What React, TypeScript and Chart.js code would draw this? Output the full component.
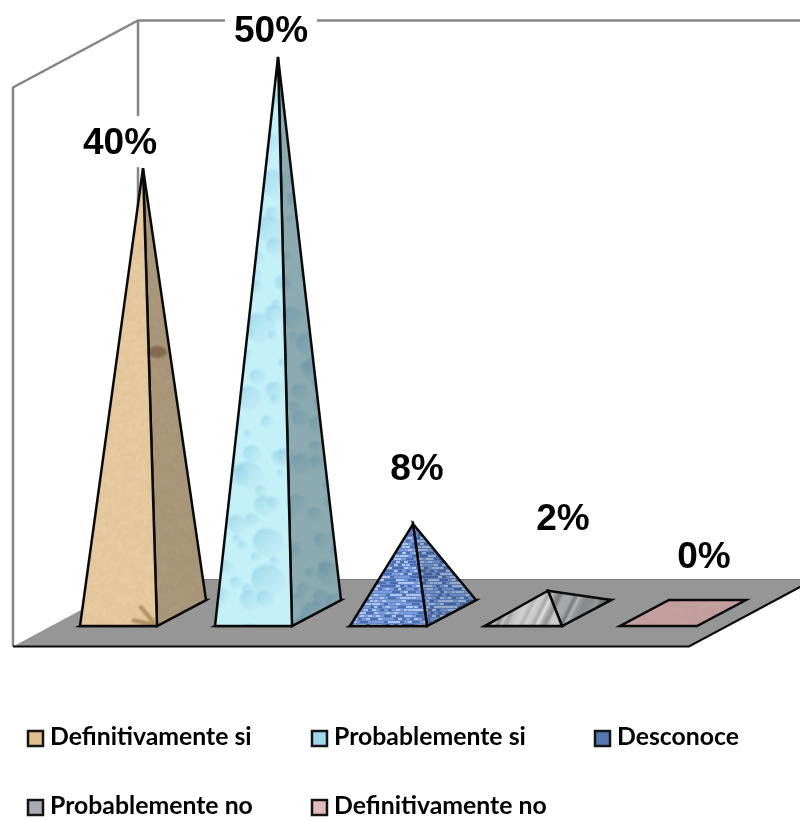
import React, { useEffect, useRef } from "react";
import { Chart, registerables } from "chart.js";

Chart.register(...registerables);

const categories = [
  "Definitivamente si",
  "Probablemente si",
  "Desconoce",
  "Probablemente no",
  "Definitivamente no",
];
const percentValues = [40, 50, 8, 2, 0];
const swatchColors = ["#E3BE8F", "#9ED8E8", "#5578B5", "#A8ABB3", "#E2B9B9"];
const sideShade = [0.3, 0.34, 0.16, 0.2, 0];

// label nudges relative to each apex (the reference has hand-placed labels)
const labelNudgeX = [-23, -7, 4, 15, 21];
const labelNudgeY = [-26, -27, -56, -73, -57];

const DEPTH_DX = 24.5;
const DEPTH_DY = 13;
const FLOOR_DX = 62.5;
const FLOOR_DY = 33.5;
const W = 800;
const H = 820;
const LABEL_FONT = 'bold 37px "Liberation Sans"';

const hash = (a: number, b: number) => {
  const s = Math.sin(a * 12.9898 + b * 78.233) * 43758.5453;
  return s - Math.floor(s);
};

function tile(draw: (c: CanvasRenderingContext2D) => void, blur = 0.8) {
  const raw = document.createElement("canvas");
  raw.width = W;
  raw.height = H;
  draw(raw.getContext("2d")!);
  const cv = document.createElement("canvas");
  cv.width = W;
  cv.height = H;
  const c = cv.getContext("2d")!;
  c.filter = `blur(${blur}px)`;
  c.drawImage(raw, 0, 0);
  return cv;
}

const sandTexture = () =>
  tile((c) => {
    c.fillStyle = "#E9CDA3";
    c.fillRect(0, 0, W, H);
    for (let x = 0; x < W; x += 3)
      for (let y = 0; y < H; y += 3) {
        c.fillStyle = `rgba(170,125,75,${hash(x, y) * 0.12})`;
        c.fillRect(x, y, 3, 3);
      }
    c.fillStyle = "rgba(120,75,35,0.5)";
    c.beginPath();
    c.ellipse(157, 352, 10, 6, 0, 0, Math.PI * 2);
    c.fill();
    c.strokeStyle = "rgba(130,90,50,0.55)";
    c.lineWidth = 4;
    c.beginPath();
    c.moveTo(140, 606);
    c.lineTo(155, 624);
    c.moveTo(132, 620);
    c.lineTo(154, 625);
    c.stroke();
  }, 1.2);

const waterTexture = () =>
  tile((c) => {
    c.fillStyle = "#C4F0F7";
    c.fillRect(0, 0, W, H);
    for (let x = 0; x < W; x += 22)
      for (let y = 0; y < H; y += 22) {
        const px = x + hash(x, y) * 20;
        const py = y + hash(y, x) * 20;
        const r = 4 + hash(x + 1, y) * hash(y + 2, x) * 18;
        const g = c.createLinearGradient(px - r, py - r, px + r, py + r);
        g.addColorStop(0, "rgba(120,190,222,0.55)");
        g.addColorStop(0.65, "rgba(160,215,235,0.25)");
        g.addColorStop(1, "rgba(255,255,255,0.65)");
        c.fillStyle = g;
        c.beginPath();
        c.ellipse(px, py, r, r * 0.85, 0.6, 0, Math.PI * 2);
        c.fill();
      }
  }, 1);

const denimTexture = () =>
  tile((c) => {
    c.fillStyle = "#6488CC";
    c.fillRect(0, 0, W, H);
    for (let x = 0; x < W; x += 4)
      for (let y = 0; y < H; y += 3) {
        const v = hash(x, y);
        c.fillStyle = v > 0.6 ? "#AFC5EE" : v > 0.3 ? "#4A6BAE" : "#7E9CDA";
        c.fillRect(x + (y % 6 ? 0 : 2), y, 3 + hash(y, x) * 3, 2);
      }
  }, 0.7);

const steelTexture = () =>
  tile((c) => {
    c.fillStyle = "#C0C0C0";
    c.fillRect(0, 0, W, H);
    for (let i = -H; i < W; i += 4) {
      const v = Math.round(135 + hash(i, 3) * 90);
      c.strokeStyle = `rgb(${v},${v},${v})`;
      c.lineWidth = 4;
      c.beginPath();
      c.moveTo(i + H * 0.5, 0);
      c.lineTo(i, H);
      c.stroke();
    }
  }, 1);

const roseTexture = () =>
  tile((c) => {
    c.fillStyle = "#C6A3A2";
    c.fillRect(0, 0, W, H);
    for (let x = 0; x < W; x += 4)
      for (let y = 0; y < H; y += 4) {
        c.fillStyle = `rgba(120,80,80,${hash(x, y) * 0.1})`;
        c.fillRect(x, y, 4, 4);
      }
  }, 1.5);

const textureMakers = [sandTexture, waterTexture, denimTexture, steelTexture, roseTexture];

const poly = (c: CanvasRenderingContext2D, pts: number[][]) => {
  c.beginPath();
  pts.forEach(([x, y], i) => (i ? c.lineTo(x, y) : c.moveTo(x, y)));
  c.closePath();
};

const labelBoxes = (chart: any, draw: (x: number, y: number, text: string, w: number) => void) => {
  const { ctx: c } = chart;
  c.font = LABEL_FONT;
  chart.getDatasetMeta(0).data.forEach((el: any, i: number) => {
    const text = `${percentValues[i]}%`;
    draw(el.x + labelNudgeX[i], el.y + labelNudgeY[i], text, c.measureText(text).width + 18);
  });
};

const stagePlugin = {
  id: "stage",
  beforeDatasetsDraw(chart: any) {
    const { ctx: c, chartArea: a } = chart;
    const y0 = chart.scales.y.getPixelForValue(0);
    const wall = y0 - a.top + 3;
    const fl = [a.left - FLOOR_DX, y0 + FLOOR_DY];
    const fr = [a.right - FLOOR_DX + 1, y0 + FLOOR_DY];
    const br = [a.right + FLOOR_DX + 1, y0 - FLOOR_DY];
    const bl = [a.left + FLOOR_DX, y0 - FLOOR_DY];
    c.save();
    c.strokeStyle = "#868686";
    c.lineWidth = 2.5;
    c.beginPath();
    c.moveTo(fl[0], fl[1]);
    c.lineTo(fl[0], fl[1] - wall);
    c.lineTo(bl[0], bl[1] - wall);
    c.lineTo(br[0], bl[1] - wall);
    c.moveTo(bl[0], bl[1] - wall);
    c.lineTo(bl[0], bl[1]);
    c.stroke();
    // the labels' white boxes interrupt the walls but never the floor
    labelBoxes(chart, (x, y, _t, w) => {
      c.fillStyle = "#ffffff";
      c.fillRect(x - w / 2, y - 26, w, 51);
    });
    c.fillStyle = "#969696";
    poly(c, [fl, fr, br, bl]);
    c.fill();
    c.strokeStyle = "#7a7a7a";
    c.lineWidth = 1;
    c.beginPath();
    c.moveTo(bl[0], bl[1]);
    c.lineTo(br[0], br[1]);
    c.stroke();
    c.strokeStyle = "#0c0c0c";
    c.lineWidth = 2.2;
    c.beginPath();
    c.moveTo(fl[0], fl[1]);
    c.lineTo(fr[0], fr[1]);
    c.lineTo(br[0], br[1]);
    c.stroke();
    c.restore();
  },
};

const pyramidPlugin = {
  id: "pyramids",
  afterDatasetsDraw(chart: any) {
    const { ctx: c } = chart;
    const meta = chart.getDatasetMeta(0);
    c.save();
    c.lineJoin = "miter";
    c.miterLimit = 6;
    meta.data.forEach((el: any, i: number) => {
      const half = el.width / 2;
      const fl = [el.x - DEPTH_DX - half, el.base + DEPTH_DY];
      const fr = [el.x - DEPTH_DX + half, el.base + DEPTH_DY];
      const br = [el.x + DEPTH_DX + half, el.base - DEPTH_DY];
      const bl = [el.x + DEPTH_DX - half, el.base - DEPTH_DY];
      const apex = [el.x, el.y];
      const pattern = c.createPattern(textureMakers[i](), "no-repeat");
      c.lineWidth = 2.5;
      c.strokeStyle = "#0a0a0a";
      c.fillStyle = pattern;
      poly(c, [fl, fr, br, bl]);
      c.fill();
      c.stroke();
      if (percentValues[i] <= 0) return;
      poly(c, [fr, br, apex]);
      c.fillStyle = pattern;
      c.fill();
      c.fillStyle = `rgba(30,35,40,${sideShade[i]})`;
      c.fill();
      c.stroke();
      poly(c, [fl, fr, apex]);
      c.fillStyle = pattern;
      c.fill();
      c.stroke();
    });
    c.restore();
  },
};

const labelPlugin = {
  id: "valueLabels",
  afterDatasetsDraw(chart: any) {
    const { ctx: c } = chart;
    c.save();
    c.textAlign = "center";
    c.textBaseline = "middle";
    labelBoxes(chart, (x, y, text) => {
      c.fillStyle = "#000000";
      c.fillText(text, x, y + 2);
    });
    c.restore();
  },
};

const legendPlugin = {
  id: "gridLegend",
  afterDraw(chart: any) {
    const { ctx: c } = chart;
    const columns = [28, 312, 595];
    const rows = [738.5, 807.5];
    c.save();
    c.font = 'bold 24.8px "Lato"';
    c.textBaseline = "middle";
    c.textAlign = "left";
    (chart.data.labels as string[]).forEach((label, i) => {
      const x = columns[i % 3];
      const y = rows[Math.floor(i / 3)];
      c.fillStyle = swatchColors[i];
      c.fillRect(x, y - 7.5, 15, 15);
      c.strokeStyle = "#141414";
      c.lineWidth = 2.5;
      c.strokeRect(x, y - 7.5, 15, 15);
      c.fillStyle = "#000000";
      c.fillText(label, x + 22, y - 1);
    });
    c.restore();
  },
};

export default function App() {
  const ref = useRef<HTMLCanvasElement>(null);
  useEffect(() => {
    const chart = new Chart(ref.current!, {
      type: "bar",
      data: {
        labels: categories,
        datasets: [
          {
            data: percentValues,
            backgroundColor: "rgba(0,0,0,0)",
            borderWidth: 0,
            categoryPercentage: 1,
            barPercentage: 77 / 135,
          },
        ],
      },
      options: {
        responsive: false,
        animation: false,
        layout: { padding: { left: 75.5, right: 49.5, top: 57, bottom: 207 } },
        scales: {
          x: { display: false },
          y: { display: false, min: 0, max: 50 },
        },
        plugins: { legend: { display: false }, tooltip: { enabled: false } },
      },
      plugins: [stagePlugin, pyramidPlugin, labelPlugin, legendPlugin],
    });
    return () => chart.destroy();
  }, []);
  return (
    <div style={{ position: "absolute", left: 0, top: 0, width: W, height: H, background: "#fff" }}>
      <canvas ref={ref} width={W} height={H} style={{ display: "block" }} />
    </div>
  );
}
